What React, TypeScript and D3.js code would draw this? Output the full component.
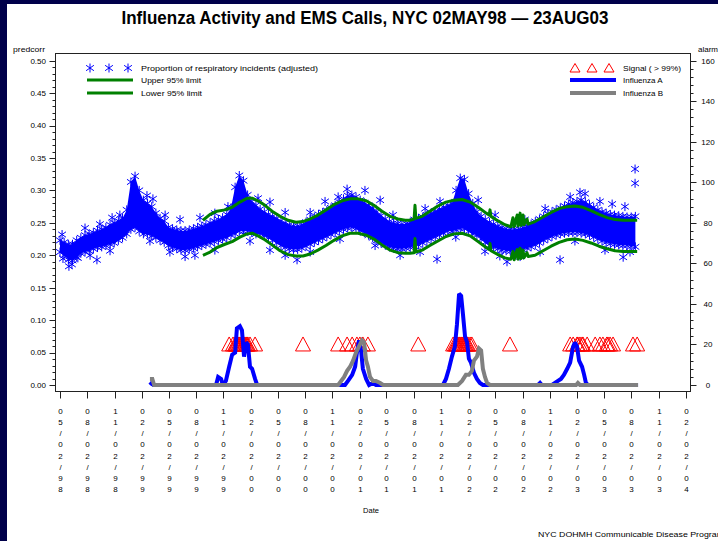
import React from "react";
import * as d3 from "d3";

// ---------- data ----------
const START = Date.UTC(1998, 4, 2); // 02MAY98, day 0 of the series
const dayToDate = (d: number) => new Date(START + d * 864e5);

const title = "Influenza Activity and EMS Calls, NYC 02MAY98 \u2014 23AUG03";
const xTickLabels = [
  "05/02/98", "08/02/98", "11/02/98", "02/02/99", "05/02/99", "08/02/99", "11/02/99", "02/02/00",
  "05/02/00", "08/02/00", "11/02/00", "02/02/01", "05/02/01", "08/02/01", "11/02/01", "02/02/02",
  "05/02/02", "08/02/02", "11/02/02", "02/02/03", "05/02/03", "08/02/03", "11/02/03", "02/02/04",
];
const leftTicks = [0, 0.05, 0.1, 0.15, 0.2, 0.25, 0.3, 0.35, 0.4, 0.45, 0.5];
const rightTicks = [0, 20, 40, 60, 80, 100, 120, 140, 160];

// Proportion of respiratory incidents: band of daily values, sampled every 14 days (low / high star rows)
const BAND_STEP_DAYS = 14;
const bandLow = [
  0.205, 0.200, 0.193, 0.192, 0.197, 0.203, 0.205, 0.207, 0.210, 0.212,
  0.213, 0.215, 0.217, 0.219, 0.223, 0.227, 0.233, 0.240, 0.243, 0.237,
  0.233, 0.233, 0.230, 0.227, 0.223, 0.220, 0.215, 0.212, 0.210, 0.208,
  0.208, 0.209, 0.211, 0.213, 0.215, 0.217, 0.219, 0.221, 0.223, 0.225,
  0.227, 0.231, 0.233, 0.237, 0.237, 0.237, 0.235, 0.233, 0.233, 0.230,
  0.227, 0.223, 0.219, 0.215, 0.212, 0.210, 0.209, 0.209, 0.211, 0.214,
  0.217, 0.220, 0.223, 0.226, 0.229, 0.232, 0.235, 0.238, 0.240, 0.242,
  0.243, 0.241, 0.238, 0.235, 0.231, 0.227, 0.223, 0.219, 0.216, 0.213,
  0.211, 0.210, 0.210, 0.211, 0.212, 0.214, 0.216, 0.219, 0.222, 0.225,
  0.228, 0.231, 0.234, 0.237, 0.237, 0.239, 0.241, 0.241, 0.237, 0.233,
  0.231, 0.225, 0.220, 0.215, 0.212, 0.210, 0.208, 0.207, 0.206, 0.206,
  0.207, 0.209, 0.211, 0.213, 0.216, 0.219, 0.223, 0.226, 0.229, 0.231,
  0.233, 0.234, 0.235, 0.235, 0.235, 0.234, 0.233, 0.231, 0.228, 0.225,
  0.222, 0.220, 0.218, 0.217, 0.216, 0.215, 0.215, 0.214, 0.213,
];
const bandHigh = [
  0.223, 0.220, 0.217, 0.217, 0.223, 0.227, 0.231, 0.233, 0.235, 0.238,
  0.240, 0.243, 0.247, 0.250, 0.253, 0.257, 0.270, 0.313, 0.322, 0.300,
  0.285, 0.280, 0.275, 0.265, 0.257, 0.253, 0.243, 0.241, 0.239, 0.238,
  0.238, 0.239, 0.241, 0.243, 0.245, 0.247, 0.250, 0.253, 0.255, 0.258,
  0.263, 0.273, 0.305, 0.323, 0.315, 0.293, 0.283, 0.277, 0.271, 0.267,
  0.263, 0.260, 0.257, 0.253, 0.250, 0.247, 0.245, 0.245, 0.247, 0.251,
  0.255, 0.259, 0.263, 0.266, 0.269, 0.273, 0.277, 0.282, 0.287, 0.292,
  0.293, 0.290, 0.285, 0.281, 0.277, 0.273, 0.267, 0.261, 0.256, 0.252,
  0.250, 0.249, 0.248, 0.249, 0.251, 0.255, 0.257, 0.259, 0.262, 0.265,
  0.268, 0.271, 0.274, 0.277, 0.280, 0.300, 0.319, 0.317, 0.295, 0.280,
  0.267, 0.260, 0.255, 0.251, 0.248, 0.245, 0.243, 0.241, 0.240, 0.240,
  0.241, 0.243, 0.245, 0.248, 0.252, 0.256, 0.260, 0.264, 0.267, 0.270,
  0.273, 0.276, 0.279, 0.281, 0.283, 0.285, 0.282, 0.278, 0.274, 0.270,
  0.267, 0.265, 0.263, 0.262, 0.261, 0.260, 0.259, 0.259, 0.260,
];
// scattered daily values sticking out of the band
const outlierDays = [
  30, 40, 124, 312, 796, 1266, 1501, 1679, 1746, 1891, 1931, 1931,
  7, 84, 134, 175, 201, 292, 353, 403, 470, 520, 564, 665, 705, 756, 840, 890, 934, 964, 1024, 1075,
  1118, 1226, 1276, 1404, 1461, 1561, 1629, 1713, 1763, 1813, 1854, 1897,
  10, 60, 101, 168, 302, 369, 420, 453, 520, 638, 705, 756, 840, 940, 1058, 1142, 1209, 1329, 1427,
  1477, 1545, 1612, 1729, 1830, 1914,
];
const outlierValues = [
  0.183, 0.186, 0.193, 0.287, 0.193, 0.194, 0.19, 0.193, 0.297, 0.197, 0.333, 0.311,
  0.232, 0.242, 0.248, 0.258, 0.262, 0.292, 0.262, 0.255, 0.258, 0.265, 0.275, 0.288, 0.282, 0.266,
  0.266, 0.283, 0.29, 0.302, 0.3, 0.285, 0.262, 0.272, 0.283, 0.285, 0.262, 0.255, 0.272, 0.29, 0.295,
  0.283, 0.279, 0.275,
  0.195, 0.196, 0.2, 0.207, 0.222, 0.205, 0.198, 0.2, 0.208, 0.222, 0.208, 0.2, 0.205, 0.225, 0.215,
  0.2, 0.205, 0.228, 0.206, 0.199, 0.198, 0.205, 0.222, 0.208, 0.205,
];

// 95% limits
const limitDays = [
  480, 504, 527, 554, 578, 604, 628, 645, 665, 688, 712, 739, 766, 792, 816, 840, 866, 893, 920, 947,
  974, 1001, 1028, 1054, 1081, 1108, 1135, 1159, 1175, 1189, 1192, 1195, 1216, 1242, 1269, 1296, 1323,
  1350, 1377, 1404, 1431, 1441, 1444, 1447, 1471, 1494, 1514, 1521, 1525, 1535, 1538, 1545, 1548, 1555,
  1558, 1568, 1572, 1595, 1622, 1649, 1676, 1703, 1729, 1756, 1783, 1810, 1837, 1864, 1891, 1917, 1938,
];
const upperLimit = [
  0.254, 0.263, 0.268, 0.27, 0.274, 0.282, 0.288, 0.288, 0.284, 0.277, 0.268, 0.26, 0.254, 0.251, 0.252,
  0.256, 0.262, 0.27, 0.278, 0.284, 0.287, 0.287, 0.284, 0.277, 0.268, 0.26, 0.256, 0.254, 0.254, 0.256,
  0.277, 0.257, 0.26, 0.268, 0.276, 0.282, 0.285, 0.286, 0.282, 0.274, 0.265, 0.262, 0.27, 0.26, 0.253,
  0.247, 0.244, 0.258, 0.244, 0.262, 0.245, 0.265, 0.246, 0.262, 0.247, 0.256, 0.248, 0.252, 0.259, 0.266,
  0.272, 0.275, 0.276, 0.274, 0.269, 0.263, 0.258, 0.255, 0.254, 0.254, 0.254,
];
const lowerLimit = [
  0.2, 0.205, 0.212, 0.217, 0.221, 0.228, 0.233, 0.234, 0.23, 0.224, 0.216, 0.207, 0.201, 0.199, 0.199,
  0.202, 0.208, 0.215, 0.223, 0.23, 0.234, 0.234, 0.231, 0.225, 0.216, 0.208, 0.204, 0.203, 0.203, 0.204,
  0.226, 0.205, 0.208, 0.215, 0.222, 0.229, 0.233, 0.234, 0.23, 0.221, 0.212, 0.209, 0.218, 0.207, 0.201,
  0.196, 0.194, 0.206, 0.193, 0.209, 0.194, 0.211, 0.195, 0.208, 0.196, 0.204, 0.198, 0.2, 0.207, 0.214,
  0.22, 0.224, 0.225, 0.223, 0.219, 0.214, 0.21, 0.207, 0.206, 0.206, 0.206,
];

// Influenza isolates (right axis)
const fluADays = [
  302, 308, 314, 524, 531, 541, 547, 557, 568, 578, 588, 594, 604, 611, 618, 625, 631, 638, 645, 655, 662,
  957, 967, 981, 991, 997, 1004, 1011, 1017, 1028, 1038, 1051, 1061,
  1286, 1296, 1306, 1316, 1326, 1333, 1340, 1347, 1353, 1360, 1367, 1373, 1380, 1390, 1400, 1410, 1420,
  1605, 1612, 1618, 1652, 1662, 1672, 1682, 1692, 1703, 1713, 1723, 1729, 1736, 1743, 1753, 1760, 1766, 1773,
  1941,
];
const fluACounts = [
  0, 1, 0, 0, 4, 3, 0, 2, 9, 15, 16, 28, 29, 27, 14, 21, 20, 9, 8, 3, 0,
  0, 2, 5, 9, 16, 22, 17, 8, 3, 0, 1, 0,
  0, 3, 8, 14, 19, 30, 45, 44, 35, 24, 21, 13, 11, 6, 3, 1, 0,
  0, 1, 0, 0, 1, 2, 3, 5, 8, 11, 19, 21, 19, 12, 9, 5, 1, 0,
  0,
];
const fluBDays = [
  302, 310, 316,
  934, 944, 954, 964, 974, 984, 994, 1004, 1014, 1021, 1028, 1034, 1041, 1051, 1061, 1075, 1085,
  1336, 1350, 1363, 1373, 1383, 1390, 1400, 1407, 1414, 1420, 1427, 1434, 1444,
  1733, 1739, 1746, 1941,
];
const fluBCounts = [
  3, 3, 0,
  0, 2, 4, 7, 9, 12, 16, 19, 22, 21, 12, 9, 4, 2, 2, 1, 0,
  0, 2, 5, 5, 7, 12, 14, 18, 17, 8, 4, 1, 0,
  0, 1, 0, 0,
];

// Signal (> 99%) days, plotted at a fixed alarm level
const SIGNAL_LEVEL = 20;
const signalDays = [
  568, 581, 588, 591, 594, 598, 601, 604, 608, 611, 615, 618, 621, 625, 628, 631, 638, 655,
  816,
  934, 964, 981, 997, 1007, 1017, 1034,
  1203,
  1320, 1326, 1330, 1333, 1336, 1340, 1343, 1347, 1350, 1353, 1357, 1360, 1363, 1367, 1370, 1377, 1383,
  1511,
  1713, 1723, 1736, 1739, 1746, 1753, 1756, 1770,
  1797, 1813, 1823, 1836, 1840, 1847, 1857,
  1924, 1938,
];

// ---------- drawing ----------
const W = 718;
const H = 541;
const FONT = "'Liberation Sans', Arial, Helvetica, sans-serif";
const BLUE = "#0000ff";
const GREEN = "#008000";
const GRAY = "#808080";
const RED = "#ff0000";
const NAVY = "#00004a";

const parseLabel = (s: string) => {
  const [mm, dd, yy] = s.split("/").map(Number);
  return new Date(Date.UTC(yy < 50 ? 2000 + yy : 1900 + yy, mm - 1, dd));
};
const tickDates = xTickLabels.map(parseLabel);

const x = d3.scaleUtc().domain([tickDates[0], tickDates[tickDates.length - 1]]).range([60, 686]);
const yL = d3.scaleLinear().domain([0, 0.5]).range([385, 60.7]);
const yR = d3.scaleLinear().domain([0, 160]).range([385, 60.7]);

const STAR = "M0,-4.5V4.5M-3.9,-2.7L3.9,2.7M-3.9,2.7L3.9,-2.7";
const TRI = "M0,-7.5L7.5,6.5L-7.5,6.5Z";
const TRI_SMALL = "M0,-4.5L5,4L-5,4Z";

const PL = 55.5, PR = 690.5, PT = 53.5, PB = 391.5;

export default function App() {
  const bandIdx = d3.range(bandLow.length);
  const bandDate = (i: number) => dayToDate(i * BAND_STEP_DAYS);
  const bandArea = d3
    .area<number>()
    .x((i) => x(bandDate(i)))
    .y0((i) => yL(bandLow[i]))
    .y1((i) => yL(bandHigh[i]));

  const limIdx = d3.range(limitDays.length);
  const upperLine = d3.line<number>().x((i) => x(dayToDate(limitDays[i]))).y((i) => yL(upperLimit[i]));
  const lowerLine = d3.line<number>().x((i) => x(dayToDate(limitDays[i]))).y((i) => yL(lowerLimit[i]));
  const fluALine = d3.line<number>().x((i) => x(dayToDate(fluADays[i]))).y((i) => yR(fluACounts[i]));
  const fluBLine = d3.line<number>().x((i) => x(dayToDate(fluBDays[i]))).y((i) => yR(fluBCounts[i]));

  const leftMinor = d3.range(0, 0.5001, 0.01);
  const rightMinor = d3.range(0, 160.001, 4);
  const rows = [414, 425, 436, 447, 459, 470, 481, 492];

  return (
    <svg
      width={W}
      height={H}
      style={{ position: "absolute", left: 0, top: 0, display: "block" }}
      fontFamily={FONT}
    >
      <rect x={0} y={0} width={W} height={H} fill={NAVY} />
      <rect x={7} y={4} width={W - 7} height={H - 4} fill="#ffffff" />

      <text
        x={365}
        y={24}
        textAnchor="middle"
        fontSize={18}
        fontWeight="bold"
        textLength={487}
        lengthAdjust="spacingAndGlyphs"
        fill="#000"
      >
        {title}
      </text>

      <text x={13} y={52} fontSize={8} textLength={32} lengthAdjust="spacingAndGlyphs" fill="#000">predcorr</text>
      <text x={698} y={52} fontSize={8} fill="#000">alarm</text>

      {/* band of observations */}
      <path d={bandArea(bandIdx) || ""} fill={BLUE} />
      {bandIdx.map((i) => (
        <g key={"b" + i} stroke={BLUE} strokeWidth={1} fill="none">
          <path d={STAR} transform={`translate(${x(bandDate(i))},${yL(bandLow[i])})`} />
          <path d={STAR} transform={`translate(${x(bandDate(i))},${yL(bandHigh[i])})`} />
        </g>
      ))}
      {outlierDays.map((d, i) => (
        <path
          key={"o" + i}
          d={STAR}
          stroke={BLUE}
          strokeWidth={1}
          fill="none"
          transform={`translate(${x(dayToDate(d))},${yL(outlierValues[i])})`}
        />
      ))}

      {/* limits */}
      <path d={upperLine(limIdx) || ""} fill="none" stroke={GREEN} strokeWidth={3} strokeLinejoin="round" />
      <path d={lowerLine(limIdx) || ""} fill="none" stroke={GREEN} strokeWidth={3} strokeLinejoin="round" />

      {/* signals */}
      {signalDays.map((d, i) => (
        <path
          key={"s" + i}
          d={TRI}
          fill="none"
          stroke={RED}
          strokeWidth={1}
          transform={`translate(${x(dayToDate(d))},${yR(SIGNAL_LEVEL)})`}
        />
      ))}

      {/* influenza */}
      <path d={fluALine(d3.range(fluADays.length)) || ""} fill="none" stroke={BLUE} strokeWidth={4} strokeLinejoin="miter" strokeMiterlimit={2} />
      <path d={fluBLine(d3.range(fluBDays.length)) || ""} fill="none" stroke={GRAY} strokeWidth={4} strokeLinejoin="miter" strokeMiterlimit={2} />

      {/* frame */}
      <rect x={PL} y={PT} width={PR - PL} height={PB - PT} fill="none" stroke="#222" strokeWidth={1} />

      {/* left axis */}
      {leftMinor.map((v, i) => (
        <line key={"lm" + i} x1={PL - 3} x2={PL} y1={Math.round(yL(v)) + 0.5} y2={Math.round(yL(v)) + 0.5} stroke="#222" />
      ))}
      {leftTicks.map((v) => (
        <g key={"lt" + v}>
          <line x1={PL - 6} x2={PL} y1={Math.round(yL(v)) + 0.5} y2={Math.round(yL(v)) + 0.5} stroke="#222" />
          <text x={46} y={yL(v) + 2.8} textAnchor="end" fontSize={8} fill="#000">
            {d3.format(".2f")(v)}
          </text>
        </g>
      ))}

      {/* right axis */}
      {rightMinor.map((v, i) => (
        <line key={"rm" + i} x1={PR} x2={PR + 3} y1={Math.round(yR(v)) + 0.5} y2={Math.round(yR(v)) + 0.5} stroke="#222" />
      ))}
      {rightTicks.map((v) => (
        <g key={"rt" + v}>
          <line x1={PR} x2={PR + 6} y1={Math.round(yR(v)) + 0.5} y2={Math.round(yR(v)) + 0.5} stroke="#222" />
          <text x={708} y={yR(v) + 2.8} textAnchor="middle" fontSize={8} fill="#000">
            {v}
          </text>
        </g>
      ))}

      {/* x axis */}
      {tickDates.map((dt, i) => {
        const tx = Math.round(x(dt)) + 0.5;
        return (
          <g key={"xt" + i}>
            <line x1={tx} x2={tx} y1={PB} y2={PB + 7} stroke="#222" />
            {xTickLabels[i].split("").map((ch, j) => (
              <text key={j} x={tx} y={rows[j]} textAnchor="middle" fontSize={8} fill="#000">
                {ch}
              </text>
            ))}
          </g>
        );
      })}
      <text x={371} y={513} textAnchor="middle" fontSize={7.5} fill="#000">Date</text>
      <text x={538} y={537} fontSize={8} textLength={186} lengthAdjust="spacingAndGlyphs" fill="#000">
        NYC DOHMH  Communicable Disease Program
      </text>

      {/* left legend */}
      <g stroke={BLUE} strokeWidth={1} fill="none">
        {[90, 109, 128].map((lx) => (
          <path key={lx} d={STAR} transform={`translate(${lx},68)`} />
        ))}
      </g>
      <line x1={87} x2={133} y1={80} y2={80} stroke={GREEN} strokeWidth={3} />
      <line x1={87} x2={133} y1={93} y2={93} stroke={GREEN} strokeWidth={3} />
      <text x={141} y={70.5} fontSize={8} textLength={177} lengthAdjust="spacingAndGlyphs" fill="#000">
        Proportion of respiratory incidents (adjusted)
      </text>
      <text x={141} y={83} fontSize={8} textLength={60} lengthAdjust="spacingAndGlyphs" fill="#000">Upper 95% limit</text>
      <text x={141} y={96} fontSize={8} textLength={61} lengthAdjust="spacingAndGlyphs" fill="#000">Lower 95% limit</text>

      {/* right legend */}
      {[575, 592, 609].map((lx) => (
        <path key={lx} d={TRI_SMALL} transform={`translate(${lx},68)`} fill="none" stroke={RED} strokeWidth={1} />
      ))}
      <line x1={570} x2={616} y1={80} y2={80} stroke={BLUE} strokeWidth={4} />
      <line x1={570} x2={616} y1={93} y2={93} stroke={GRAY} strokeWidth={4} />
      <text x={623} y={70.5} fontSize={8} textLength={58} lengthAdjust="spacingAndGlyphs" fill="#000">Signal ( &gt; 99%)</text>
      <text x={623} y={83} fontSize={8} fill="#000">Influenza A</text>
      <text x={623} y={96} fontSize={8} fill="#000">Influenza B</text>
    </svg>
  );
}
